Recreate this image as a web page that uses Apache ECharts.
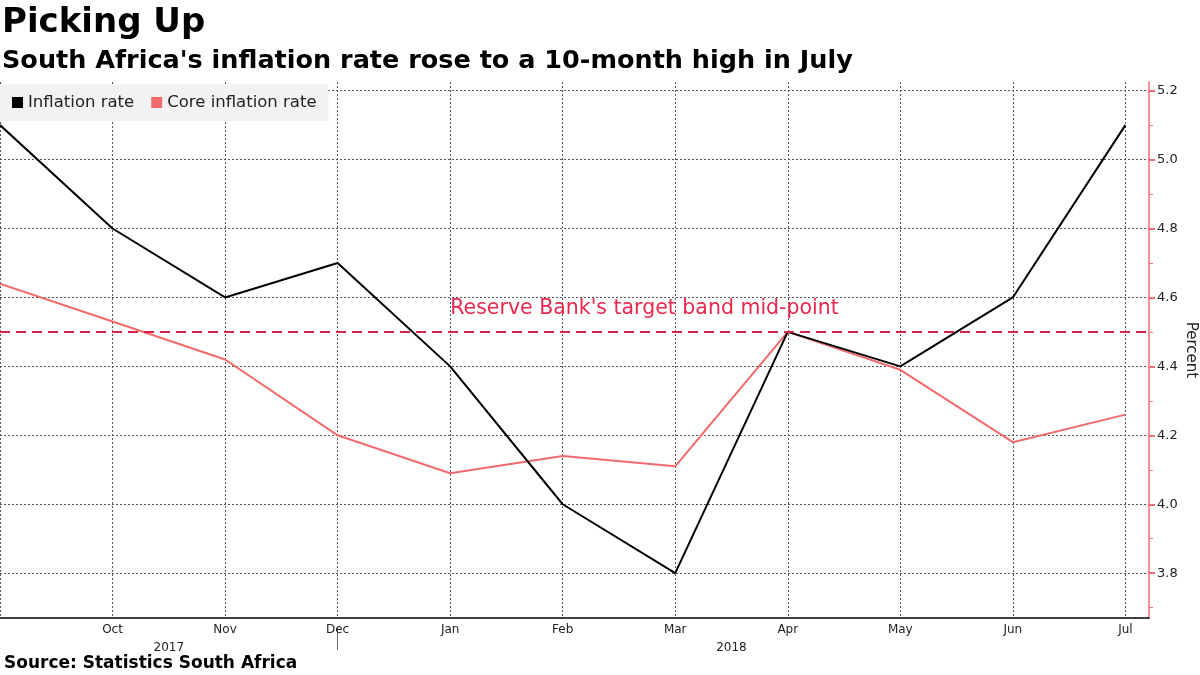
<!DOCTYPE html>
<html>
<head>
<meta charset="utf-8">
<script src="https://cdn.jsdelivr.net/npm/echarts@6/dist/echarts.min.js"></script>
<style>html,body{margin:0;padding:0;background:#fff}#c{width:1200px;height:675px}</style>
</head>
<body>
<div id="c"></div>
<script>
// Data
const months = ['Sep', 'Oct', 'Nov', 'Dec', 'Jan', 'Feb', 'Mar', 'Apr', 'May', 'Jun', 'Jul'];
const inflation = [5.1, 4.8, 4.6, 4.7, 4.4, 4.0, 3.8, 4.5, 4.4, 4.6, 5.1];
const coreInflation = [4.64, 4.53, 4.42, 4.20, 4.09, 4.14, 4.11, 4.50, 4.39, 4.18, 4.26];
const targetMidPoint = 4.5;
const yMajorTicks = [3.8, 4.0, 4.2, 4.4, 4.6, 4.8, 5.0, 5.2];
const yMinorTicks = [3.7, 3.9, 4.1, 4.3, 4.5, 4.7, 4.9, 5.1];
const years = ['2017', '2018'];
const yearCenters = [1.5, 6.5];
const yearBoundary = [3];

const FONT = 'DejaVu Sans';
const idx = months.map((m, i) => i);
const pair = arr => arr.map((v, i) => [i, v]);
const X_MAX = 10.21, Y_MIN = 3.67, Y_MAX = 5.225;
const gridBox = {left: 0, right: 51, top: 82, bottom: 57, containLabel: false, outerBoundsMode: 'none'};

const chart = echarts.init(document.getElementById('c'), null, {renderer: 'canvas'});
chart.setOption({
  animation: false,
  backgroundColor: '#ffffff',
  title: [
    {text: 'Picking Up', left: 2, top: 6, padding: 0,
     textStyle: {fontFamily: FONT, fontWeight: 'bold', fontSize: 34, color: '#000'}},
    {text: "South Africa's inflation rate rose to a 10-month high in July", left: 2, top: 48, padding: 0,
     textStyle: {fontFamily: FONT, fontWeight: 'bold', fontSize: 25.5, color: '#000'}},
    {text: 'Source: Statistics South Africa', left: 4, top: 655, padding: 0,
     textStyle: {fontFamily: FONT, fontWeight: 'bold', fontSize: 17, color: '#000'}}
  ],
  legend: {
    left: 0, top: 84, padding: [10, 12, 10, 12],
    backgroundColor: '#f2f2f2',
    icon: 'rect', itemWidth: 11, itemHeight: 11, itemGap: 17,
    textStyle: {fontFamily: FONT, fontSize: 16.5, color: '#222'},
    data: ['Inflation rate', 'Core inflation rate']
  },
  grid: [Object.assign({}, gridBox), Object.assign({}, gridBox)],
  xAxis: [
    {
      type: 'value', gridIndex: 0, min: 0, max: X_MAX, position: 'bottom',
      axisLine: {show: true, onZero: false, lineStyle: {color: '#000', width: 1.5}},
      axisTick: {show: false, customValues: idx},
      axisLabel: {customValues: idx.slice(1), formatter: v => months[Math.round(v)] || '',
                  fontFamily: FONT, fontSize: 12, color: '#222', margin: 6},
      splitLine: {show: true, lineStyle: {color: '#555', type: [2, 2], width: 1}}
    },
    {
      type: 'value', gridIndex: 0, min: 0, max: X_MAX, position: 'bottom', offset: 9,
      axisLine: {show: false, onZero: false},
      axisTick: {show: true, customValues: yearBoundary, length: 23, inside: false,
                 lineStyle: {color: '#666', width: 1}},
      axisLabel: {customValues: yearCenters,
                  formatter: v => years[yearCenters.indexOf(v)] || '',
                  fontFamily: FONT, fontSize: 12, color: '#222', margin: 15},
      splitLine: {show: false}
    },
    {
      type: 'value', gridIndex: 1, min: 0, max: X_MAX, show: false,
      axisLine: {onZero: false}
    }
  ],
  yAxis: [
    {
      type: 'value', gridIndex: 0, min: Y_MIN, max: Y_MAX, position: 'right',
      name: 'Percent', nameLocation: 'middle', nameRotate: -90, nameGap: 34,
      nameMoveOverlap: false,
      nameTextStyle: {fontFamily: FONT, fontSize: 15, color: '#222'},
      axisLine: {show: true, onZero: false, lineStyle: {color: '#ef6f77', width: 1.5}},
      axisTick: {show: true, customValues: yMajorTicks, length: 6, lineStyle: {color: '#ef6f77', width: 2}},
      axisLabel: {customValues: yMajorTicks, formatter: v => v.toFixed(1),
                  fontFamily: FONT, fontSize: 13, color: '#222', margin: 8},
      splitLine: {show: true, lineStyle: {color: '#555', type: [2, 2], width: 1}}
    },
    {
      type: 'value', gridIndex: 1, min: Y_MIN, max: Y_MAX, position: 'right',
      axisLine: {show: false, onZero: false},
      axisTick: {show: true, customValues: yMinorTicks, length: 4, lineStyle: {color: '#ef6f77', width: 1}},
      axisLabel: {show: false},
      splitLine: {show: false}
    }
  ],
  series: [
    {
      name: 'Core inflation rate', type: 'line', data: pair(coreInflation),
      xAxisIndex: 0, yAxisIndex: 0, showSymbol: false, symbol: 'none',
      lineStyle: {color: '#f26a6b', width: 2}, itemStyle: {color: '#f26a6b'},
      z: 2
    },
    {
      name: 'Inflation rate', type: 'line', data: pair(inflation),
      xAxisIndex: 0, yAxisIndex: 0, showSymbol: false, symbol: 'none',
      lineStyle: {color: '#000000', width: 2}, itemStyle: {color: '#000000'},
      z: 3,
      markLine: {
        silent: true, symbol: 'none',
        lineStyle: {color: '#d4224d', type: [10, 6], width: 2},
        label: {show: true, position: 'insideMiddleTop', formatter: "Reserve Bank's target band mid-point",
                fontFamily: FONT, fontSize: 20.5, color: '#e8294f', offset: [70, -8]},
        data: [{yAxis: targetMidPoint}]
      }
    }
  ]
});
</script>
</body>
</html>
